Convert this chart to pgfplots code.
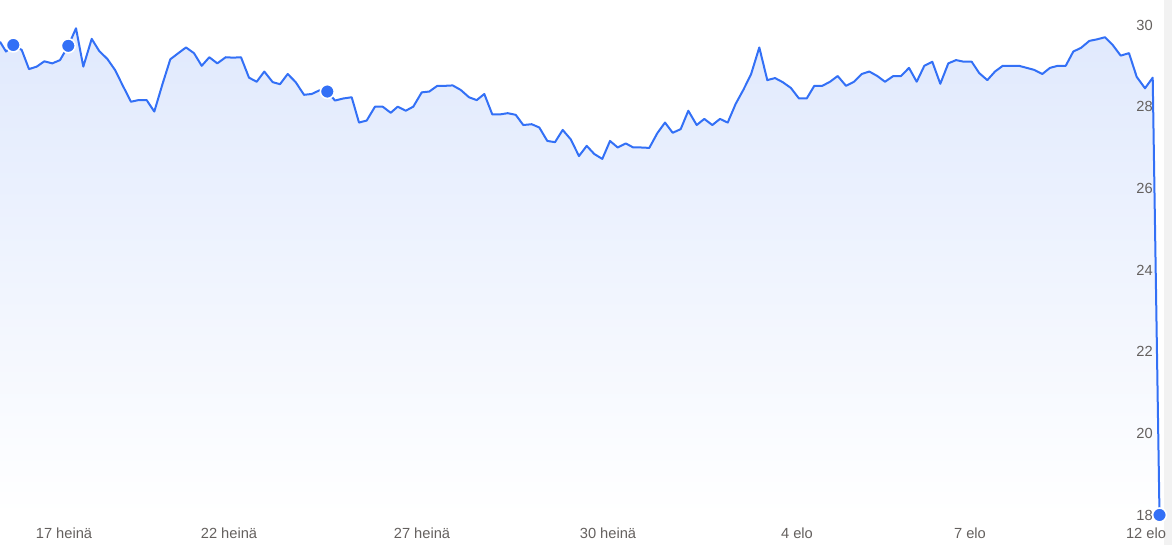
\documentclass[border=0pt]{standalone}
\usepackage{fontspec}
\setmainfont{Liberation Sans}
\usepackage{pgfplots}
\pgfplotsset{compat=1.18}
\definecolor{lineblue}{RGB}{51,112,246}
\definecolor{fillblue}{RGB}{224,233,253}
\definecolor{labelgray}{RGB}{100,96,94}

\begin{document}
\begin{tikzpicture}
\useasboundingbox (0,0) rectangle (879pt,408.75pt);
\fill[black!5] (873pt,0) rectangle (879pt,408.75pt);
\begin{axis}[
    scale only axis,
    width=873pt, height=408.75pt,
    xmin=0, xmax=1164,
    ymin=17.2645, ymax=30.6123,
    axis on top,
    axis line style={draw=none},
    major tick length=0pt,
    tick style={draw=none},
    xtick={64,229,422,608,797,970,1146},
    xticklabels={17 heinä,22 heinä,27 heinä,30 heinä,4 elo,7 elo,12 elo},
    ytick={18,20,22,24,26,28,30},
    yticklabel pos=right,
    /pgf/number format/assume math mode=true,
    ticklabel style={font=\fontsize{11}{13}\selectfont, text=labelgray, inner sep=0pt},
    xticklabel style={anchor=center, yshift=9pt},
    yticklabel style={anchor=east, xshift=-8.25pt},
]
% price series (x = position along the trading-time axis)
\pgfplotstableread{
x y
0 29.59
6 29.35
13.3 29.51
21.7 29.39
29 28.92
36.7 28.98
44.3 29.11
52.3 29.06
60 29.14
68.3 29.49
76 29.92
83.3 28.98
91.7 29.66
99.3 29.36
107.3 29.17
115 28.90
123.3 28.49
131 28.12
138.3 28.16
146.7 28.16
154.3 27.88
162.7 28.57
170.3 29.16
178.3 29.31
186 29.45
194 29.31
201.7 29.00
209.3 29.21
217.3 29.06
225.7 29.21
233.3 29.20
241 29.21
249 28.71
256.7 28.61
264.3 28.86
272.7 28.60
280 28.55
287.7 28.80
295.7 28.60
304 28.29
311.7 28.31
319.5 28.40
327.3 28.37
335 28.15
343.3 28.20
351.7 28.23
359 27.61
366.7 27.66
375 28.00
382.7 28.00
390.7 27.85
397.7 28.00
405.7 27.90
413.3 28.00
421.7 28.35
429.3 28.37
437.3 28.51
445 28.51
452.7 28.52
460.7 28.41
469 28.23
476.7 28.16
484.3 28.31
492.3 27.81
500 27.81
507.7 27.84
515.7 27.80
523.3 27.55
531.7 27.57
539.3 27.49
547.3 27.16
555 27.13
562.7 27.43
570.7 27.20
579 26.79
586.7 27.04
594.3 26.84
602.3 26.72
610 27.16
617.7 27.00
625.7 27.10
633.3 27.00
641 27.00
649.3 26.99
657.3 27.35
665 27.61
672.7 27.36
680.7 27.45
688.3 27.90
696.7 27.55
704.3 27.70
712.3 27.55
720 27.70
727.7 27.61
735.7 28.07
743.3 28.41
751 28.79
759.3 29.45
767.3 28.65
775 28.70
782.7 28.60
790.8 28.46
799 28.20
806.7 28.20
814.3 28.51
822.3 28.51
830 28.61
837.7 28.75
846 28.51
854 28.61
861.7 28.80
869.3 28.86
877.3 28.75
885 28.61
893.3 28.75
901 28.75
909 28.95
916.7 28.61
924.3 29.00
932.3 29.10
940.3 28.56
948.3 29.06
956 29.14
964 29.10
971.7 29.10
979.3 28.82
987.3 28.65
995 28.86
1002.7 29.00
1010.7 29.00
1019 29.00
1026.7 28.95
1034.3 28.90
1042.3 28.80
1050 28.95
1057.7 29.00
1065.7 29.00
1073.3 29.35
1081 29.44
1089.3 29.61
1097.3 29.65
1105 29.70
1112.7 29.51
1120.7 29.25
1129 29.31
1136.7 28.73
1145 28.45
1152.7 28.71
1159.5 18.00
}\pricedata

% area under the line, closed down to 18
\addplot[draw=none, top color=fillblue, bottom color=white]
    table[x=x, y=y] {\pricedata} -- (axis cs:1159.5,18) -- (axis cs:0,18) -- cycle;

\addplot[lineblue, line width=1.5pt, line join=round, no marks]
    table[x=x, y=y] {\pricedata};

% highlighted points
\addplot[only marks, mark=*, mark size=5.2pt,
    mark options={fill=lineblue, draw=white, line width=1.2pt}]
    coordinates {(13.3,29.51) (68.3,29.49) (327.3,28.37) (1159.5,18.00)};
\end{axis}
\end{tikzpicture}
\end{document}
